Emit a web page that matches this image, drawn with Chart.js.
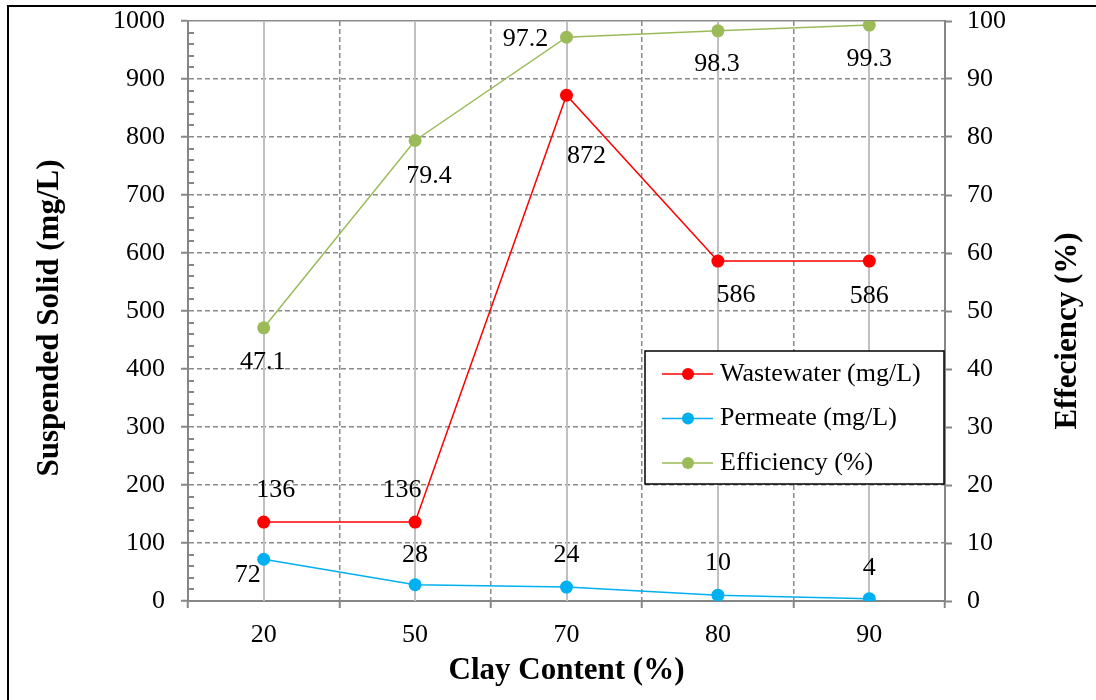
<!DOCTYPE html>
<html><head><meta charset="utf-8">
<script src="https://cdn.jsdelivr.net/npm/chart.js@4.4.0/dist/chart.umd.min.js"></script>
<style>html,body{margin:0;padding:0;background:#fff;}#wrap{width:1096px;height:700px;position:relative;}</style>
</head><body><div id="wrap"><canvas id="c" width="1096" height="700"></canvas></div>
<script>
// ---- data ----
const categories = ['20', '50', '70', '80', '90'];
const wastewater = [136, 136, 872, 586, 586];
const permeate = [72, 28, 24, 10, 4];
const efficiency = [47.1, 79.4, 97.2, 98.3, 99.3];
const seriesNames = ['Wastewater (mg/L)', 'Permeate (mg/L)', 'Efficiency (%)'];
const xTitle = 'Clay Content (%)';
const yTitle = 'Suspended Solid (mg/L)';
const y1Title = 'Effeciency (%)';
const yRange = [0, 1000];
const y1Range = [0, 100];

// ---- styling ----
const FONT = '"Liberation Serif", "Times New Roman", serif';
const GRID = '#8a8a8a';
const AXIS = '#868686';
const labelOffsets = [
  [[12,-32],[-13,-32],[20,61],[18,34],[0,35]],
  [[-16,16],[0,-30],[0,-32],[0,-32],[0,-31]],
  [[-1,34],[14,36],[-41,2],[-1,33],[0,34]]
];

const extras = {
  id: 'extras',
  beforeDraw(chart) {
    const c = chart.ctx;
    c.save();
    c.fillStyle = '#fff';
    c.fillRect(0, 0, chart.width, chart.height);
    c.strokeStyle = '#000';
    c.lineWidth = 2;
    c.beginPath();
    c.moveTo(8, chart.height); c.lineTo(8, 6); c.lineTo(chart.width, 6);
    c.stroke();
    c.restore();
  },
  beforeDatasetsDraw(chart) {
    const c = chart.ctx, x = chart.scales.x, a = chart.chartArea, y = chart.scales.y;
    c.save();
    c.strokeStyle = '#c0c0c0';
    c.lineWidth = 2;
    categories.forEach((_, i) => {
      const px = Math.round(x.getPixelForValue(i));
      c.beginPath(); c.moveTo(px, a.top); c.lineTo(px, a.bottom); c.stroke();
    });
    c.strokeStyle = AXIS;
    c.lineWidth = 2;
    for (let v = yRange[0]; v <= yRange[1]; v += 20) {
      if (v % 100 === 0) continue;
      const py = Math.round(y.getPixelForValue(v));
      c.beginPath(); c.moveTo(a.left, py); c.lineTo(a.left + 6, py); c.stroke();
    }
    c.restore();
  },
  afterDatasetsDraw(chart) {
    const c = chart.ctx;
    c.save();
    c.font = '26px ' + FONT;
    c.fillStyle = '#000';
    c.textAlign = 'center';
    c.textBaseline = 'middle';
    chart.data.datasets.forEach((ds, i) => {
      const meta = chart.getDatasetMeta(i);
      meta.data.forEach((el, j) => {
        const o = labelOffsets[i][j];
        c.fillText(String(ds.data[j]), el.x + o[0], el.y + o[1]);
      });
    });
    c.restore();
  },
  afterDraw(chart) {
    const c = chart.ctx, a = chart.chartArea;
    c.save();
    c.font = 'bold 31px ' + FONT;
    c.fillStyle = '#000';
    c.textAlign = 'center';
    c.textBaseline = 'middle';
    c.translate(50, 318); c.rotate(-Math.PI / 2); c.fillText(yTitle, 0, 0);
    c.setTransform(1, 0, 0, 1, 0, 0);
    c.translate(1068, 331); c.rotate(-Math.PI / 2); c.fillText(y1Title, 0, 0);
    c.setTransform(1, 0, 0, 1, 0, 0);
    const bx = a.right - 300, by = a.top + 330, bw = 299, bh = 133;
    c.fillStyle = '#fff';
    c.fillRect(bx, by, bw, bh);
    c.strokeStyle = '#000';
    c.lineWidth = 1.5;
    c.strokeRect(bx, by, bw, bh);
    c.font = '26px ' + FONT;
    c.textAlign = 'left';
    c.textBaseline = 'middle';
    chart.data.datasets.forEach((ds, i) => {
      const ry = by + 23 + i * 44.5;
      c.strokeStyle = ds.borderColor; c.lineWidth = 1.5;
      c.beginPath(); c.moveTo(bx + 17, ry); c.lineTo(bx + 68, ry); c.stroke();
      c.fillStyle = ds.backgroundColor;
      c.beginPath(); c.arc(bx + 43, ry, 6, 0, Math.PI * 2); c.fill();
      c.fillStyle = '#000';
      c.fillText(ds.label, bx + 75, ry);
    });
    c.restore();
  }
};

const tickFont = { family: FONT, size: 26 };
const plain = v => String(v);
const noPad = s => { s.paddingTop = 0; s.paddingBottom = 0; s.paddingLeft = 0; s.paddingRight = 0; };

new Chart(document.getElementById('c'), {
  type: 'line',
  data: {
    labels: categories,
    datasets: [
      { label: seriesNames[0], data: wastewater, yAxisID: 'y', borderColor: '#ff0000', backgroundColor: '#ff0000' },
      { label: seriesNames[1], data: permeate, yAxisID: 'y', borderColor: '#00b0f0', backgroundColor: '#00b0f0' },
      { label: seriesNames[2], data: efficiency, yAxisID: 'y1', borderColor: '#9bbb59', backgroundColor: '#9bbb59' }
    ]
  },
  options: {
    responsive: false,
    animation: false,
    events: [],
    layout: { padding: { top: 21, left: 0, right: 0, bottom: 0 } },
    elements: {
      line: { borderWidth: 1.5, tension: 0, fill: false },
      point: { radius: 6.5, hoverRadius: 6.5, borderWidth: 0 }
    },
    plugins: { legend: { display: false }, tooltip: { enabled: false } },
    scales: {
      x: {
        type: 'category',
        offset: true,
        grid: { offset: true, color: GRID, lineWidth: 1.5, tickLength: 7, tickColor: AXIS, tickWidth: 2, tickBorderDash: [] },
        border: { display: true, color: AXIS, width: 2, dash: [5, 3] },
        ticks: { font: tickFont, color: '#000', padding: 12 },
        title: { display: true, text: xTitle, color: '#000', font: { family: FONT, size: 31, weight: 'bold' }, padding: { top: 0, bottom: 10 } },
        afterFit: s => { s.height = 99; noPad(s); }
      },
      y: {
        position: 'left',
        min: yRange[0], max: yRange[1],
        grid: { color: GRID, lineWidth: 1.5, tickLength: 7, tickColor: AXIS, tickWidth: 2, tickBorderDash: [] },
        border: { display: true, color: AXIS, width: 2, dash: c => (c.tick && c.tick.value === yRange[1]) ? [] : [5, 3] },
        ticks: { stepSize: 100, font: tickFont, color: '#000', padding: 16, callback: plain },
        afterFit: s => { s.width = 188; noPad(s); }
      },
      y1: {
        position: 'right',
        min: y1Range[0], max: y1Range[1],
        grid: { drawOnChartArea: false, tickLength: 7, tickColor: AXIS, tickWidth: 2, tickBorderDash: [] },
        border: { display: true, color: AXIS, width: 2 },
        ticks: { stepSize: 10, font: tickFont, color: '#000', padding: 15, callback: plain },
        afterFit: s => { s.width = 151; noPad(s); }
      }
    }
  },
  plugins: [extras]
});
</script>
</body></html>
